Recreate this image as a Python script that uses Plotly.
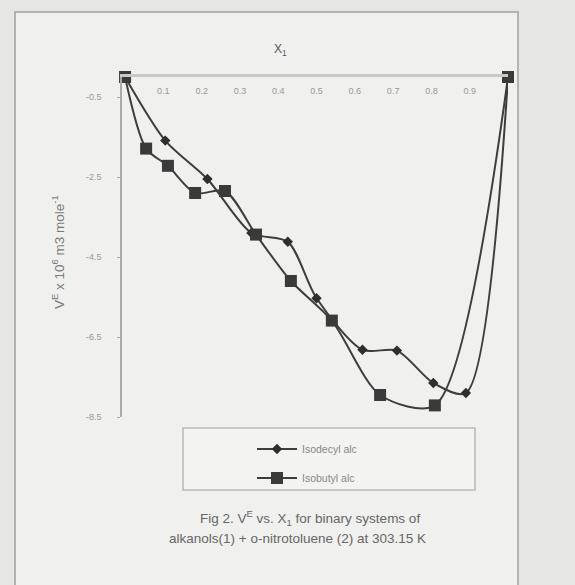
import plotly.graph_objects as go

# ---- data ----
x_isodecyl = [0.0, 0.105, 0.215, 0.33, 0.425, 0.50, 0.62, 0.71, 0.805, 0.89, 1.0]
v_isodecyl = [0.0, -1.59, -2.55, -3.9, -4.12, -5.53, -6.82, -6.84, -7.65, -7.9, 0.0]
x_isobutyl = [0.0, 0.055, 0.112, 0.183, 0.261, 0.342, 0.433, 0.54, 0.666, 0.809, 1.0]
v_isobutyl = [0.0, -1.79, -2.22, -2.9, -2.85, -3.94, -5.10, -6.09, -7.95, -8.21, 0.0]
x_ticks = [0.1, 0.2, 0.3, 0.4, 0.5, 0.6, 0.7, 0.8, 0.9]
y_ticks = [-0.5, -2.5, -4.5, -6.5, -8.5]
names = ["Isodecyl alc", "Isobutyl alc"]

W, H = 575, 585
L, R, T, B = 122, 67, 77, 168
PW, PH = W - L - R, H - T - B

def px(x):
    return (x - L) / PW

def py(y):
    return (H - B - y) / PH

LINE = "#3d3d3d"
FONT = "Liberation Sans"
fig = go.Figure()
fig.add_trace(go.Scatter(
    x=x_isodecyl, y=v_isodecyl, name=names[0], mode="lines+markers",
    line=dict(color=LINE, width=2, shape="spline", smoothing=0.8),
    marker=dict(symbol="diamond", size=8, color="#2e2e2e"),
    cliponaxis=False, legend="legend"))
fig.add_trace(go.Scatter(
    x=x_isobutyl, y=v_isobutyl, name=names[1], mode="lines+markers",
    line=dict(color=LINE, width=2, shape="spline", smoothing=0.8),
    marker=dict(symbol="square", size=12, color="#3a3a3a"),
    cliponaxis=False, legend="legend2"))

FRAME = "#b3b3b1"
shapes = [
    dict(type="rect", xref="paper", yref="paper", x0=px(15), x1=px(518), y0=py(12), y1=py(600),
         line=dict(color=FRAME, width=2), fillcolor="#f0f0ee", layer="below"),
    dict(type="rect", xref="paper", yref="paper", x0=px(183), x1=px(475), y0=py(428), y1=py(490),
         line=dict(color="#b8b8b6", width=1.5), fillcolor="#f3f3f1", layer="below"),
]

ann_common = dict(xref="paper", yref="paper", showarrow=False, xanchor="center", yanchor="middle")
annotations = [
    dict(text="X<sub>1</sub>", x=px(280), y=py(50),
         font=dict(size=12, color="#555", family=FONT), **ann_common),
    dict(text="V<sup>E</sup> x 10<sup>6</sup> m3 mole<sup>-1</sup>", x=px(58), y=py(252),
         textangle=-90, font=dict(size=13.5, color="#7a7a7a", family=FONT), **ann_common),
    dict(text="Fig 2. V<sup>E</sup> vs. X<sub>1</sub> for binary systems of", x=px(310), y=py(518),
         font=dict(size=13.5, color="#666", family=FONT), **ann_common),
    dict(text="alkanols(1) + o-nitrotoluene (2) at 303.15 K", x=px(297), y=py(538),
         font=dict(size=13.5, color="#666", family=FONT), **ann_common),
]

legend_common = dict(bgcolor="rgba(0,0,0,0)", borderwidth=0, xanchor="left", yanchor="middle",
                     itemwidth=40, font=dict(size=10.5, color="#888", family=FONT))

fig.update_layout(
    width=W, height=H,
    margin=dict(l=L, r=R, t=T, b=B),
    paper_bgcolor="#e6e6e4",
    plot_bgcolor="rgba(0,0,0,0)",
    showlegend=True,
    legend=dict(x=px(252), y=py(449), **legend_common),
    legend2=dict(x=px(252), y=py(478), **legend_common),
    shapes=shapes,
    annotations=annotations,
    xaxis=dict(range=[-0.008, 1.0], side="top", tickvals=x_ticks,
               ticktext=[f"{v:.1f}" for v in x_ticks],
               ticklabelposition="inside", ticks="", showgrid=False, zeroline=False,
               showline=True, linecolor="#c9c9c7", linewidth=3, ticklabelstandoff=10,
               tickfont=dict(size=9, color="#999", family=FONT)),
    yaxis=dict(range=[-8.5, 0], tickvals=y_ticks, ticktext=[f"{v:.1f}" for v in y_ticks],
               ticks="outside", ticklen=3, tickcolor="#aaa", showgrid=False, zeroline=False,
               showline=True, linecolor="#aaa", linewidth=1.5, ticklabelstandoff=14,
               tickfont=dict(size=9, color="#999", family=FONT)),
)

fig.write_html("out.html", config={"displayModeBar": False},
               post_script="document.body.style.margin='0';document.body.style.overflow='hidden';")
